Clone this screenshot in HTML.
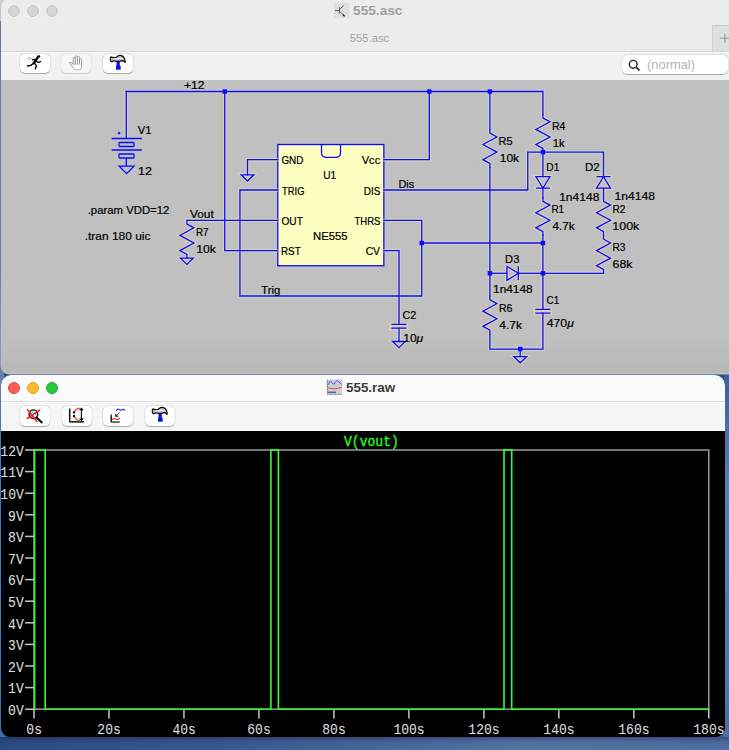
<!DOCTYPE html>
<html><head><meta charset="utf-8">
<style>
html,body{margin:0;padding:0;}
body{width:729px;height:750px;overflow:hidden;position:relative;background:#3f62a0;font-family:"Liberation Sans",sans-serif;}
.abs{position:absolute;}
#desk{left:0;top:0;width:729px;height:750px;background:linear-gradient(180deg,#1f3f78 0%,#2c4f8c 40%,#3a5e98 100%);}
#deskr{left:724px;top:370px;width:5px;height:380px;background:linear-gradient(180deg,#3a5f9c 0%,#5a7cb0 30%,#5476aa 70%,#4a6ca2 100%);}
#deskb{left:0;top:737px;width:729px;height:13px;background:linear-gradient(180deg,rgba(10,20,50,0.35) 0%,rgba(10,20,50,0.1) 35%,rgba(0,0,0,0) 100%),linear-gradient(90deg,#2c4c84 0%,#3a5b93 30%,#4a6b9f 55%,#5676a8 72%,#4f70a4 100%);}
#behind{left:0;top:0;width:12px;height:21px;background:#d0d0d0;}
#deskl{left:0;top:21px;width:4px;height:716px;background:linear-gradient(180deg,#1d3a70 0%,#22427c 35%,#4f6fa4 42%,#6482b2 50%,#4a78b8 55%,#3f7cc2 80%,#3a6cae 100%);}
#w1{left:1px;top:-4px;width:740px;height:377.5px;background:#c0c0c0;border-radius:12px 12px 8px 8px;overflow:hidden;box-shadow:0 0 0 0.5px #b8b8b8;}
#w1title{left:0;top:0;width:740px;height:55px;background:#ececec;border-bottom:1px solid #d8d8d8;}
#w1tool{left:0;top:56px;width:740px;height:28px;background:#f1f1f1;border-top:1px solid #fafafa;box-sizing:border-box;}
#w2{left:1px;top:375px;width:724px;height:362.3px;background:#000;border-radius:10px 10px 9px 9px;overflow:hidden;}
#w2title{left:0;top:0;width:100%;height:26px;background:#fafafa;border-bottom:1px solid #dedede;box-sizing:content-box;}
#w2tool{left:0;top:27px;width:100%;height:29px;background:#f5f5f5;border-top:1px solid #fcfcfc;border-bottom:0.5px solid #fdfdfd;box-sizing:border-box;}
.btn{position:absolute;width:30px;height:19.5px;background:#fff;border-radius:5px;box-shadow:0 0.5px 1px rgba(0,0,0,0.28),0 0 0 0.5px rgba(0,0,0,0.08);}
.tl{position:absolute;width:12px;height:12px;border-radius:50%;box-shadow:0 0 0 1px rgba(255,255,255,0.45);}
svg{position:absolute;left:0;top:0;}
</style></head>
<body>
<div id="desk" class="abs"></div>
<div id="deskr" class="abs"></div>
<div id="deskb" class="abs"></div>
<div id="behind" class="abs"></div>
<div id="deskl" class="abs"></div>
<div id="w1" class="abs">
  <div id="w1title" class="abs"></div>
  <div id="w1tool" class="abs"></div>
  <div class="abs" style="left:0;top:339px;width:740px;height:38.5px;background:linear-gradient(180deg,rgba(0,0,0,0) 0%,rgba(0,0,0,0.045) 95%,rgba(255,255,240,0.05) 100%);"></div>
</div>
<div id="w2" class="abs">
  <div id="w2title" class="abs"></div>
  <div id="w2tool" class="abs"></div>
</div>
<!-- traffic lights window1 -->
<div class="tl" style="left:8px;top:5px;background:#d5d5d5;border:0.5px solid #c4c4c4;box-sizing:border-box;"></div>
<div class="tl" style="left:27px;top:5px;background:#d5d5d5;border:0.5px solid #c4c4c4;box-sizing:border-box;"></div>
<div class="tl" style="left:46px;top:5px;background:#d5d5d5;border:0.5px solid #c4c4c4;box-sizing:border-box;"></div>
<!-- traffic lights window2 -->
<div class="tl" style="left:8px;top:382px;background:#fe5f57;border:0.5px solid #e2463f;box-sizing:border-box;"></div>
<div class="tl" style="left:27px;top:382px;background:#febc2e;border:0.5px solid #dfa023;box-sizing:border-box;"></div>
<div class="tl" style="left:46px;top:382px;background:#28c840;border:0.5px solid #1aab29;box-sizing:border-box;"></div>
<!-- toolbar buttons w1 -->
<div class="btn" style="left:20px;top:53.5px;"></div>
<div class="btn" style="left:61px;top:53.5px;background:#f6f6f6;box-shadow:0 0.5px 1px rgba(0,0,0,0.12),0 0 0 0.5px rgba(0,0,0,0.05);"></div>
<div class="btn" style="left:102.5px;top:53.5px;"></div>
<!-- search -->
<div class="abs" style="left:621.5px;top:54.5px;width:106px;height:19.5px;background:#fff;border-radius:5px;box-shadow:0 0.5px 1px rgba(0,0,0,0.25),0 0 0 0.5px rgba(0,0,0,0.08);"></div>
<!-- plus tab -->
<div class="abs" style="left:712px;top:24.5px;width:20px;height:26.5px;background:#e0e0e0;border-top:1.5px solid #c9c9c9;border-left:1px solid #d2d2d2;box-sizing:border-box;"></div>
<!-- toolbar buttons w2 -->
<div class="btn" style="left:20px;top:406px;"></div>
<div class="btn" style="left:61.5px;top:406px;"></div>
<div class="btn" style="left:103px;top:406px;"></div>
<div class="btn" style="left:144.5px;top:406px;"></div>

<svg id="main" width="729" height="750" viewBox="0 0 729 750">
<rect x="277.80" y="144.53" width="106.05" height="121.20" fill="#fdffc0" stroke="#0b0bff" stroke-width="1.3"/><path d="M321.5,144.53 V152.8 Q321.5,157.3 326,157.3 H336 Q340.5,157.3 340.5,152.8 V144.53" fill="none" stroke="#0b0bff" stroke-width="1.3"/>
<g fill="none" stroke="#ebe6b0" stroke-opacity="0.5" stroke-width="3.4" stroke-linejoin="miter" stroke-linecap="square">
<polyline points="126.30,91.50 126.30,91.50" />
<polyline points="126.30,91.50 542.92,91.50 542.92,114.22" />
<polyline points="126.30,91.50 126.30,138.50" />
<polyline points="224.78,91.50 224.78,250.58 277.80,250.58" />
<polyline points="383.85,159.68 429.30,159.68 429.30,91.50" />
<polyline points="489.90,91.50 489.90,129.38" />
<polyline points="489.90,129.38 489.90,133.16 496.91,136.95 482.89,144.53 496.91,152.10 482.89,159.68 489.90,163.46 489.90,167.25" />
<polyline points="489.90,167.25 489.90,273.30" />
<polyline points="277.80,159.68 247.50,159.68 247.50,174.82" />
<polyline points="277.80,189.98 239.93,189.98 239.93,296.02 421.73,296.02 421.73,220.28 383.85,220.28" />
<polyline points="277.80,220.28 186.90,220.28" />
<polyline points="186.90,220.28 186.90,224.06 193.91,227.85 179.89,235.43 193.91,243.00 179.89,250.58 186.90,254.36 186.90,258.15" />
<polyline points="383.85,250.58 399.00,250.58 399.00,324.43" />
<polyline points="399.00,328.22 399.00,341.48" />
<polyline points="421.73,243.00 542.92,243.00" />
<polyline points="383.85,189.98 527.77,189.98 527.77,152.10 603.52,152.10 603.52,176.72" />
<polyline points="542.92,114.22 542.92,118.01 549.93,121.80 535.92,129.38 549.93,136.95 535.92,144.53 542.92,148.31 542.92,152.10" />
<polyline points="542.92,152.10 542.92,176.72" />
<polyline points="542.92,188.08 542.92,197.55" />
<polyline points="542.92,197.55 542.92,201.34 549.93,205.12 535.92,212.70 549.93,220.28 535.92,227.85 542.92,231.64 542.92,235.43" />
<polyline points="542.92,235.43 542.92,309.28" />
<polyline points="603.52,188.08 603.52,197.55" />
<polyline points="603.52,197.55 603.52,201.34 610.53,205.12 596.52,212.70 610.53,220.28 596.52,227.85 603.52,231.64 603.52,235.43" />
<polyline points="603.52,235.43 603.52,239.21 610.53,243.00 596.52,250.58 610.53,258.15 596.52,265.73 603.52,269.51 603.52,273.30" />
<polyline points="603.52,273.30 542.92,273.30" />
<polyline points="489.90,273.30 506.94,273.30" />
<polyline points="518.31,273.30 542.92,273.30" />
<polyline points="489.90,273.30 489.90,296.02" />
<polyline points="489.90,296.02 489.90,299.81 496.91,303.60 482.89,311.18 496.91,318.75 482.89,326.33 489.90,330.11 489.90,333.90" />
<polyline points="489.90,333.90 489.90,349.05 542.92,349.05 542.92,313.07" />
<polyline points="520.20,349.05 520.20,356.62" />
<path d="M241.10,174.82 L253.90,174.82 L247.50,181.02 Z" />
<path d="M180.50,258.15 L193.30,258.15 L186.90,264.35 Z" />
<path d="M392.60,341.48 L405.40,341.48 L399.00,347.68 Z" />
<path d="M513.80,356.62 L526.60,356.62 L520.20,362.82 Z" />
<path d="M391.43,324.43 L406.58,324.43 M391.43,328.22 L406.58,328.22" />
<path d="M535.35,309.28 L550.50,309.28 M535.35,313.07 L550.50,313.07" />
<path d="M535.92,176.72 L549.93,176.72 L542.92,188.08 Z M535.92,188.08 L549.93,188.08" />
<path d="M596.52,188.08 L610.53,188.08 L603.52,176.72 Z M596.52,176.72 L610.53,176.72" />
<path d="M506.94,266.29 L506.94,280.31 L518.31,273.30 Z M518.31,266.29 L518.31,280.31" />
</g>
<g fill="none" stroke="#0b0bff" stroke-width="1.3" stroke-linejoin="miter" stroke-linecap="square">
<polyline points="126.30,91.50 126.30,91.50" />
<polyline points="126.30,91.50 542.92,91.50 542.92,114.22" />
<polyline points="126.30,91.50 126.30,138.50" />
<polyline points="224.78,91.50 224.78,250.58 277.80,250.58" />
<polyline points="383.85,159.68 429.30,159.68 429.30,91.50" />
<polyline points="489.90,91.50 489.90,129.38" />
<polyline points="489.90,129.38 489.90,133.16 496.91,136.95 482.89,144.53 496.91,152.10 482.89,159.68 489.90,163.46 489.90,167.25" />
<polyline points="489.90,167.25 489.90,273.30" />
<polyline points="277.80,159.68 247.50,159.68 247.50,174.82" />
<polyline points="277.80,189.98 239.93,189.98 239.93,296.02 421.73,296.02 421.73,220.28 383.85,220.28" />
<polyline points="277.80,220.28 186.90,220.28" />
<polyline points="186.90,220.28 186.90,224.06 193.91,227.85 179.89,235.43 193.91,243.00 179.89,250.58 186.90,254.36 186.90,258.15" />
<polyline points="383.85,250.58 399.00,250.58 399.00,324.43" />
<polyline points="399.00,328.22 399.00,341.48" />
<polyline points="421.73,243.00 542.92,243.00" />
<polyline points="383.85,189.98 527.77,189.98 527.77,152.10 603.52,152.10 603.52,176.72" />
<polyline points="542.92,114.22 542.92,118.01 549.93,121.80 535.92,129.38 549.93,136.95 535.92,144.53 542.92,148.31 542.92,152.10" />
<polyline points="542.92,152.10 542.92,176.72" />
<polyline points="542.92,188.08 542.92,197.55" />
<polyline points="542.92,197.55 542.92,201.34 549.93,205.12 535.92,212.70 549.93,220.28 535.92,227.85 542.92,231.64 542.92,235.43" />
<polyline points="542.92,235.43 542.92,309.28" />
<polyline points="603.52,188.08 603.52,197.55" />
<polyline points="603.52,197.55 603.52,201.34 610.53,205.12 596.52,212.70 610.53,220.28 596.52,227.85 603.52,231.64 603.52,235.43" />
<polyline points="603.52,235.43 603.52,239.21 610.53,243.00 596.52,250.58 610.53,258.15 596.52,265.73 603.52,269.51 603.52,273.30" />
<polyline points="603.52,273.30 542.92,273.30" />
<polyline points="489.90,273.30 506.94,273.30" />
<polyline points="518.31,273.30 542.92,273.30" />
<polyline points="489.90,273.30 489.90,296.02" />
<polyline points="489.90,296.02 489.90,299.81 496.91,303.60 482.89,311.18 496.91,318.75 482.89,326.33 489.90,330.11 489.90,333.90" />
<polyline points="489.90,333.90 489.90,349.05 542.92,349.05 542.92,313.07" />
<polyline points="520.20,349.05 520.20,356.62" />
<path d="M241.10,174.82 L253.90,174.82 L247.50,181.02 Z" />
<path d="M180.50,258.15 L193.30,258.15 L186.90,264.35 Z" />
<path d="M392.60,341.48 L405.40,341.48 L399.00,347.68 Z" />
<path d="M513.80,356.62 L526.60,356.62 L520.20,362.82 Z" />
</g>
<g fill="none" stroke="#0b0bff" stroke-width="1.3" stroke-linejoin="miter" stroke-linecap="butt">
<path d="M391.43,324.43 L406.58,324.43 M391.43,328.22 L406.58,328.22" />
<path d="M535.35,309.28 L550.50,309.28 M535.35,313.07 L550.50,313.07" />
<path d="M535.92,176.72 L549.93,176.72 L542.92,188.08 Z M535.92,188.08 L549.93,188.08" />
<path d="M596.52,188.08 L610.53,188.08 L603.52,176.72 Z M596.52,176.72 L610.53,176.72" />
<path d="M506.94,266.29 L506.94,280.31 L518.31,273.30 Z M518.31,266.29 L518.31,280.31" />
</g>
<g fill="none" stroke="#0b0bff" stroke-width="1.3">
<path d="M111.7,138.5 H141.8 M111.7,150 H141.8" />
<rect x="119" y="142.5" width="15" height="4" rx="0.8" />
<rect x="119" y="154" width="15" height="4" rx="0.8" />
<path d="M126.3,158 V166.2" />
<path d="M119.2,166.2 H134 L126.6,173.6 Z" />
</g>
<path d="M117.4,133.1 H120.6 M119,131.5 V134.7" stroke="#ebe6b0" stroke-opacity="0.5" stroke-width="3" fill="none"/>
<path d="M117.6,133.1 H120.4 M119,131.7 V134.5" stroke="#0b0bff" stroke-width="1.3" fill="none"/>
<g fill="#0b0bff">
<rect x="222.58" y="89.30" width="4.4" height="4.4" />
<rect x="427.10" y="89.30" width="4.4" height="4.4" />
<rect x="487.70" y="89.30" width="4.4" height="4.4" />
<rect x="540.72" y="149.90" width="4.4" height="4.4" />
<rect x="419.53" y="240.80" width="4.4" height="4.4" />
<rect x="540.72" y="240.80" width="4.4" height="4.4" />
<rect x="487.70" y="271.10" width="4.4" height="4.4" />
<rect x="540.72" y="271.10" width="4.4" height="4.4" />
<rect x="518.00" y="346.85" width="4.4" height="4.4" />
</g>
<g stroke="#000" stroke-width="0.2">
<text x="183.95" y="88.70" font-family="Liberation Sans" font-size="11" font-weight="400" fill="#000" textLength="20.71" lengthAdjust="spacingAndGlyphs">+12</text>
<text x="137.70" y="134.00" font-family="Liberation Sans" font-size="11" font-weight="400" fill="#000" textLength="13.77" lengthAdjust="spacingAndGlyphs">V1</text>
<text x="137.94" y="175.20" font-family="Liberation Sans" font-size="11" font-weight="400" fill="#000" textLength="14.02" lengthAdjust="spacingAndGlyphs">12</text>
<text x="87.73" y="213.50" font-family="Liberation Sans" font-size="11" font-weight="400" fill="#000" textLength="81.61" lengthAdjust="spacingAndGlyphs">.param VDD=12</text>
<text x="84.68" y="240.00" font-family="Liberation Sans" font-size="11" font-weight="400" fill="#000" textLength="65.83" lengthAdjust="spacingAndGlyphs">.tran 180 uic</text>
<text x="190.00" y="217.80" font-family="Liberation Sans" font-size="11" font-weight="400" fill="#000" textLength="23.73" lengthAdjust="spacingAndGlyphs">Vout</text>
<text x="196.03" y="235.70" font-family="Liberation Sans" font-size="11" font-weight="400" fill="#000" textLength="12.55" lengthAdjust="spacingAndGlyphs">R7</text>
<text x="196.27" y="253.10" font-family="Liberation Sans" font-size="11" font-weight="400" fill="#000" textLength="19.72" lengthAdjust="spacingAndGlyphs">10k</text>
<text x="261.30" y="293.60" font-family="Liberation Sans" font-size="11" font-weight="400" fill="#000" textLength="18.95" lengthAdjust="spacingAndGlyphs">Trig</text>
<text x="281.45" y="163.80" font-family="Liberation Sans" font-size="11" font-weight="400" fill="#000" textLength="21.95" lengthAdjust="spacingAndGlyphs">GND</text>
<text x="282.00" y="194.70" font-family="Liberation Sans" font-size="11" font-weight="400" fill="#000" textLength="22.45" lengthAdjust="spacingAndGlyphs">TRIG</text>
<text x="281.47" y="225.00" font-family="Liberation Sans" font-size="11" font-weight="400" fill="#000" textLength="21.41" lengthAdjust="spacingAndGlyphs">OUT</text>
<text x="281.03" y="255.00" font-family="Liberation Sans" font-size="11" font-weight="400" fill="#000" textLength="19.67" lengthAdjust="spacingAndGlyphs">RST</text>
<text x="361.70" y="163.50" font-family="Liberation Sans" font-size="11" font-weight="400" fill="#000" textLength="18.54" lengthAdjust="spacingAndGlyphs">Vcc</text>
<text x="363.72" y="194.70" font-family="Liberation Sans" font-size="11" font-weight="400" fill="#000" textLength="16.59" lengthAdjust="spacingAndGlyphs">DIS</text>
<text x="354.40" y="224.70" font-family="Liberation Sans" font-size="11" font-weight="400" fill="#000" textLength="26.09" lengthAdjust="spacingAndGlyphs">THRS</text>
<text x="365.63" y="255.10" font-family="Liberation Sans" font-size="11" font-weight="400" fill="#000" textLength="14.40" lengthAdjust="spacingAndGlyphs">CV</text>
<text x="323.21" y="178.70" font-family="Liberation Sans" font-size="11" font-weight="400" fill="#000" textLength="12.98" lengthAdjust="spacingAndGlyphs">U1</text>
<text x="313.03" y="240.00" font-family="Liberation Sans" font-size="11" font-weight="400" fill="#000" textLength="34.57" lengthAdjust="spacingAndGlyphs">NE555</text>
<text x="398.46" y="187.60" font-family="Liberation Sans" font-size="11" font-weight="400" fill="#000" textLength="15.73" lengthAdjust="spacingAndGlyphs">Dis</text>
<text x="402.41" y="319.40" font-family="Liberation Sans" font-size="11" font-weight="400" fill="#000" textLength="13.80" lengthAdjust="spacingAndGlyphs">C2</text>
<text x="403.18" y="341.60" font-family="Liberation Sans" font-size="11" font-weight="400" fill="#000" textLength="20.04" lengthAdjust="spacingAndGlyphs">10<tspan font-style="italic">μ</tspan></text>
<text x="498.45" y="145.00" font-family="Liberation Sans" font-size="11" font-weight="400" fill="#000" textLength="14.06" lengthAdjust="spacingAndGlyphs">R5</text>
<text x="499.78" y="161.80" font-family="Liberation Sans" font-size="11" font-weight="400" fill="#000" textLength="19.30" lengthAdjust="spacingAndGlyphs">10k</text>
<text x="551.88" y="129.80" font-family="Liberation Sans" font-size="11" font-weight="400" fill="#000" textLength="13.48" lengthAdjust="spacingAndGlyphs">R4</text>
<text x="552.73" y="146.50" font-family="Liberation Sans" font-size="11" font-weight="400" fill="#000" textLength="11.94" lengthAdjust="spacingAndGlyphs">1k</text>
<text x="546.31" y="171.10" font-family="Liberation Sans" font-size="11" font-weight="400" fill="#000" textLength="12.98" lengthAdjust="spacingAndGlyphs">D1</text>
<text x="584.92" y="171.20" font-family="Liberation Sans" font-size="11" font-weight="400" fill="#000" textLength="14.60" lengthAdjust="spacingAndGlyphs">D2</text>
<text x="559.18" y="201.20" font-family="Liberation Sans" font-size="11" font-weight="400" fill="#000" textLength="40.22" lengthAdjust="spacingAndGlyphs">1n4148</text>
<text x="614.58" y="200.10" font-family="Liberation Sans" font-size="11" font-weight="400" fill="#000" textLength="40.33" lengthAdjust="spacingAndGlyphs">1n4148</text>
<text x="551.43" y="213.30" font-family="Liberation Sans" font-size="11" font-weight="400" fill="#000" textLength="12.66" lengthAdjust="spacingAndGlyphs">R1</text>
<text x="552.53" y="230.40" font-family="Liberation Sans" font-size="11" font-weight="400" fill="#000" textLength="22.21" lengthAdjust="spacingAndGlyphs">4.7k</text>
<text x="612.51" y="213.00" font-family="Liberation Sans" font-size="11" font-weight="400" fill="#000" textLength="12.98" lengthAdjust="spacingAndGlyphs">R2</text>
<text x="612.35" y="230.40" font-family="Liberation Sans" font-size="11" font-weight="400" fill="#000" textLength="26.98" lengthAdjust="spacingAndGlyphs">100k</text>
<text x="612.51" y="251.00" font-family="Liberation Sans" font-size="11" font-weight="400" fill="#000" textLength="12.98" lengthAdjust="spacingAndGlyphs">R3</text>
<text x="612.64" y="267.70" font-family="Liberation Sans" font-size="11" font-weight="400" fill="#000" textLength="19.85" lengthAdjust="spacingAndGlyphs">68k</text>
<text x="505.14" y="262.80" font-family="Liberation Sans" font-size="11" font-weight="400" fill="#000" textLength="14.17" lengthAdjust="spacingAndGlyphs">D3</text>
<text x="493.09" y="292.50" font-family="Liberation Sans" font-size="11" font-weight="400" fill="#000" textLength="39.60" lengthAdjust="spacingAndGlyphs">1n4148</text>
<text x="498.88" y="311.70" font-family="Liberation Sans" font-size="11" font-weight="400" fill="#000" textLength="13.41" lengthAdjust="spacingAndGlyphs">R6</text>
<text x="499.33" y="328.70" font-family="Liberation Sans" font-size="11" font-weight="400" fill="#000" textLength="22.62" lengthAdjust="spacingAndGlyphs">4.7k</text>
<text x="546.55" y="304.30" font-family="Liberation Sans" font-size="11" font-weight="400" fill="#000" textLength="12.63" lengthAdjust="spacingAndGlyphs">C1</text>
<text x="546.72" y="327.00" font-family="Liberation Sans" font-size="11" font-weight="400" fill="#000" textLength="27.13" lengthAdjust="spacingAndGlyphs">470<tspan font-style="italic">μ</tspan></text>
</g>
<rect x="34" y="450" width="674.8" height="259.2" stroke="#9c9c9c" stroke-width="1.5" fill="none"/>
<g stroke="#c4c4c4" stroke-width="1.5" fill="none">
<line x1="25" y1="450.00" x2="34" y2="450.00" />
<line x1="25" y1="471.60" x2="34" y2="471.60" />
<line x1="25" y1="493.20" x2="34" y2="493.20" />
<line x1="25" y1="514.80" x2="34" y2="514.80" />
<line x1="25" y1="536.40" x2="34" y2="536.40" />
<line x1="25" y1="558.00" x2="34" y2="558.00" />
<line x1="25" y1="579.60" x2="34" y2="579.60" />
<line x1="25" y1="601.20" x2="34" y2="601.20" />
<line x1="25" y1="622.80" x2="34" y2="622.80" />
<line x1="25" y1="644.40" x2="34" y2="644.40" />
<line x1="25" y1="666.00" x2="34" y2="666.00" />
<line x1="25" y1="687.60" x2="34" y2="687.60" />
<line x1="25" y1="709.20" x2="34" y2="709.20" />
<line x1="34.00" y1="709.2" x2="34.00" y2="718.5" />
<line x1="108.98" y1="709.2" x2="108.98" y2="718.5" />
<line x1="183.96" y1="709.2" x2="183.96" y2="718.5" />
<line x1="258.93" y1="709.2" x2="258.93" y2="718.5" />
<line x1="333.91" y1="709.2" x2="333.91" y2="718.5" />
<line x1="408.89" y1="709.2" x2="408.89" y2="718.5" />
<line x1="483.87" y1="709.2" x2="483.87" y2="718.5" />
<line x1="558.84" y1="709.2" x2="558.84" y2="718.5" />
<line x1="633.82" y1="709.2" x2="633.82" y2="718.5" />
<line x1="708.80" y1="709.2" x2="708.80" y2="718.5" />
</g>
<g stroke="#dcdcdc" stroke-width="0.1">
<text x="0.35" y="455.90" font-family="Liberation Mono" font-size="13" font-weight="400" fill="#dcdcdc" textLength="23.41" lengthAdjust="spacingAndGlyphs" transform="translate(0,455.90) scale(1,1.1) translate(0,-455.90)">12V</text>
<text x="0.35" y="477.50" font-family="Liberation Mono" font-size="13" font-weight="400" fill="#dcdcdc" textLength="23.41" lengthAdjust="spacingAndGlyphs" transform="translate(0,477.50) scale(1,1.1) translate(0,-477.50)">11V</text>
<text x="0.35" y="499.10" font-family="Liberation Mono" font-size="13" font-weight="400" fill="#dcdcdc" textLength="23.41" lengthAdjust="spacingAndGlyphs" transform="translate(0,499.10) scale(1,1.1) translate(0,-499.10)">10V</text>
<text x="8.10" y="520.70" font-family="Liberation Mono" font-size="13" font-weight="400" fill="#dcdcdc" textLength="15.61" lengthAdjust="spacingAndGlyphs" transform="translate(0,520.70) scale(1,1.1) translate(0,-520.70)">9V</text>
<text x="8.10" y="542.30" font-family="Liberation Mono" font-size="13" font-weight="400" fill="#dcdcdc" textLength="15.61" lengthAdjust="spacingAndGlyphs" transform="translate(0,542.30) scale(1,1.1) translate(0,-542.30)">8V</text>
<text x="8.10" y="563.90" font-family="Liberation Mono" font-size="13" font-weight="400" fill="#dcdcdc" textLength="15.61" lengthAdjust="spacingAndGlyphs" transform="translate(0,563.90) scale(1,1.1) translate(0,-563.90)">7V</text>
<text x="8.10" y="585.50" font-family="Liberation Mono" font-size="13" font-weight="400" fill="#dcdcdc" textLength="15.61" lengthAdjust="spacingAndGlyphs" transform="translate(0,585.50) scale(1,1.1) translate(0,-585.50)">6V</text>
<text x="8.10" y="607.10" font-family="Liberation Mono" font-size="13" font-weight="400" fill="#dcdcdc" textLength="15.61" lengthAdjust="spacingAndGlyphs" transform="translate(0,607.10) scale(1,1.1) translate(0,-607.10)">5V</text>
<text x="8.10" y="628.70" font-family="Liberation Mono" font-size="13" font-weight="400" fill="#dcdcdc" textLength="15.61" lengthAdjust="spacingAndGlyphs" transform="translate(0,628.70) scale(1,1.1) translate(0,-628.70)">4V</text>
<text x="8.10" y="650.30" font-family="Liberation Mono" font-size="13" font-weight="400" fill="#dcdcdc" textLength="15.61" lengthAdjust="spacingAndGlyphs" transform="translate(0,650.30) scale(1,1.1) translate(0,-650.30)">3V</text>
<text x="8.10" y="671.90" font-family="Liberation Mono" font-size="13" font-weight="400" fill="#dcdcdc" textLength="15.61" lengthAdjust="spacingAndGlyphs" transform="translate(0,671.90) scale(1,1.1) translate(0,-671.90)">2V</text>
<text x="8.10" y="693.50" font-family="Liberation Mono" font-size="13" font-weight="400" fill="#dcdcdc" textLength="15.61" lengthAdjust="spacingAndGlyphs" transform="translate(0,693.50) scale(1,1.1) translate(0,-693.50)">1V</text>
<text x="8.10" y="715.10" font-family="Liberation Mono" font-size="13" font-weight="400" fill="#dcdcdc" textLength="15.61" lengthAdjust="spacingAndGlyphs" transform="translate(0,715.10) scale(1,1.1) translate(0,-715.10)">0V</text>
<text x="26.38" y="733.70" font-family="Liberation Mono" font-size="13" font-weight="400" fill="#dcdcdc" textLength="15.61" lengthAdjust="spacingAndGlyphs" transform="translate(0,733.70) scale(1,1.1) translate(0,-733.70)">0s</text>
<text x="97.35" y="733.70" font-family="Liberation Mono" font-size="13" font-weight="400" fill="#dcdcdc" textLength="23.41" lengthAdjust="spacingAndGlyphs" transform="translate(0,733.70) scale(1,1.1) translate(0,-733.70)">20s</text>
<text x="172.46" y="733.70" font-family="Liberation Mono" font-size="13" font-weight="400" fill="#dcdcdc" textLength="23.41" lengthAdjust="spacingAndGlyphs" transform="translate(0,733.70) scale(1,1.1) translate(0,-733.70)">40s</text>
<text x="247.31" y="733.70" font-family="Liberation Mono" font-size="13" font-weight="400" fill="#dcdcdc" textLength="23.41" lengthAdjust="spacingAndGlyphs" transform="translate(0,733.70) scale(1,1.1) translate(0,-733.70)">60s</text>
<text x="322.29" y="733.70" font-family="Liberation Mono" font-size="13" font-weight="400" fill="#dcdcdc" textLength="23.41" lengthAdjust="spacingAndGlyphs" transform="translate(0,733.70) scale(1,1.1) translate(0,-733.70)">80s</text>
<text x="393.39" y="733.70" font-family="Liberation Mono" font-size="13" font-weight="400" fill="#dcdcdc" textLength="31.21" lengthAdjust="spacingAndGlyphs" transform="translate(0,733.70) scale(1,1.1) translate(0,-733.70)">100s</text>
<text x="468.37" y="733.70" font-family="Liberation Mono" font-size="13" font-weight="400" fill="#dcdcdc" textLength="31.21" lengthAdjust="spacingAndGlyphs" transform="translate(0,733.70) scale(1,1.1) translate(0,-733.70)">120s</text>
<text x="543.34" y="733.70" font-family="Liberation Mono" font-size="13" font-weight="400" fill="#dcdcdc" textLength="31.21" lengthAdjust="spacingAndGlyphs" transform="translate(0,733.70) scale(1,1.1) translate(0,-733.70)">140s</text>
<text x="618.32" y="733.70" font-family="Liberation Mono" font-size="13" font-weight="400" fill="#dcdcdc" textLength="31.21" lengthAdjust="spacingAndGlyphs" transform="translate(0,733.70) scale(1,1.1) translate(0,-733.70)">160s</text>
<text x="693.30" y="733.70" font-family="Liberation Mono" font-size="13" font-weight="400" fill="#dcdcdc" textLength="31.21" lengthAdjust="spacingAndGlyphs" transform="translate(0,733.70) scale(1,1.1) translate(0,-733.70)">180s</text>
</g>
<path d="M34.6,709.2 V450 H45.2 V709.2 H270.9 V450 H278.4 V709.2 H504 V450 H511.7 V709.2 H708.8" fill="none" stroke="#2dff2d" stroke-width="1.6" />
<g stroke="#22ff22" stroke-width="0.3"><text x="344.00" y="446.30" font-family="Liberation Mono" font-size="13" font-weight="400" fill="#22ff22" textLength="54.92" lengthAdjust="spacingAndGlyphs" transform="translate(0,446.30) scale(1,1.1) translate(0,-446.30)">V(vout)</text></g>
<text x="353.08" y="14.80" font-family="Liberation Sans" font-size="13" font-weight="700" fill="#9f9f9f" textLength="49.34" lengthAdjust="spacingAndGlyphs">555.asc</text>
<text x="349.71" y="41.60" font-family="Liberation Sans" font-size="11.5" font-weight="400" fill="#a3a3a3" textLength="39.57" lengthAdjust="spacingAndGlyphs">555.asc</text>
<text x="647.06" y="68.80" font-family="Liberation Sans" font-size="13" font-weight="400" fill="#b4b4b4" textLength="47.98" lengthAdjust="spacingAndGlyphs">(normal)</text>
<text x="345.98" y="391.70" font-family="Liberation Sans" font-size="13" font-weight="700" fill="#3c3c3c" textLength="49.27" lengthAdjust="spacingAndGlyphs">555.raw</text>
<path d="M720,38.2 H729 M724.9,33.5 V43" stroke="#929292" stroke-width="1" fill="none"/>
<circle cx="633.2" cy="64.3" r="3.9" fill="none" stroke="#222" stroke-width="1.4"/><path d="M636,67.1 L639.5,70.3" stroke="#222" stroke-width="1.6"/>
<g transform="translate(0,0)" stroke-linecap="round" stroke-linejoin="round" fill="none"><path d="M29,57.2 L31.4,58.6 M27.6,58.6 L29.6,60" stroke="#9a9a9a" stroke-width="1"/><path d="M37.6,57.8 L33.6,63.2" stroke="#000" stroke-width="2.3"/><path d="M35.4,59.6 L33.6,59.3 L32.4,60" stroke="#000" stroke-width="1.2"/><path d="M36.6,61.6 L38.4,62.4 L40.6,61.6" stroke="#000" stroke-width="1.2"/><path d="M34.2,63 L30.6,65.4 L27.6,65.8" stroke="#000" stroke-width="1.5"/><path d="M34.6,63.4 L36.4,65.6 L35.4,68.8" stroke="#000" stroke-width="1.4"/><ellipse cx="38.6" cy="56.4" rx="1.7" ry="1.2" fill="#000"/></g>
<g stroke="#8c8c8c" stroke-width="0.8" fill="#fcfcfc" stroke-linejoin="round"><path d="M73.2,64.2 L71.2,62.6 Q69.8,62 69.6,63.2 L73.6,68.2 L74.8,69.6 H80.4 L81.6,67 V64 Z"/><rect x="73.2" y="57.6" width="2.10" height="7.40" rx="1" ry="1"/><rect x="75.3" y="55.8" width="2.10" height="9.20" rx="1" ry="1"/><rect x="77.4" y="56.4" width="2.10" height="8.60" rx="1" ry="1"/><rect x="79.5" y="58.6" width="2.10" height="6.40" rx="1" ry="1"/><path d="M73.6,64.6 Q74,67.4 74.8,69.2 H80.2 L81.2,66.8 V64.4 Z" stroke="none"/></g>
<g transform="translate(0,0)"><path d="M110.3,58 Q110.3,56.9 111.4,56.9 L112.6,57.3 Q113.4,57.8 114.6,57.8 Q116,57.8 117,56.6 Q118.6,55.2 120.6,55.4 Q123.2,55.8 124.6,58.6 Q125.4,60.4 125,62.6 Q124.2,61 122.6,60.6 Q121,60.6 119.6,61.4 H116.4 Q114.6,61 113.4,60.8 L112.6,61.4 Q111.4,61.9 110.8,61.4 Q110.3,61 110.3,60 Z" fill="#bdbdbd" stroke="#000" stroke-width="1.1" stroke-linejoin="round"/><path d="M113.2,59.2 Q117,58.6 122.4,58.4" stroke="#f2f2f2" stroke-width="1.1" fill="none"/><rect x="116.5" y="61.6" width="3.3" height="4.6" fill="#0a14d8"/><rect x="116" y="65.8" width="4.7" height="3.9" fill="#0a14d8"/></g>
<g transform="translate(42,352)"><path d="M110.3,58 Q110.3,56.9 111.4,56.9 L112.6,57.3 Q113.4,57.8 114.6,57.8 Q116,57.8 117,56.6 Q118.6,55.2 120.6,55.4 Q123.2,55.8 124.6,58.6 Q125.4,60.4 125,62.6 Q124.2,61 122.6,60.6 Q121,60.6 119.6,61.4 H116.4 Q114.6,61 113.4,60.8 L112.6,61.4 Q111.4,61.9 110.8,61.4 Q110.3,61 110.3,60 Z" fill="#bdbdbd" stroke="#000" stroke-width="1.1" stroke-linejoin="round"/><path d="M113.2,59.2 Q117,58.6 122.4,58.4" stroke="#f2f2f2" stroke-width="1.1" fill="none"/><rect x="116.5" y="61.6" width="3.3" height="4.6" fill="#0a14d8"/><rect x="116" y="65.8" width="4.7" height="3.9" fill="#0a14d8"/></g>
<circle cx="33.4" cy="414.2" r="4.3" fill="#e8ffff" stroke="#111" stroke-width="1.4"/><path d="M31.5,412.6 L33.6,411.8 M35.2,415 L36.2,413.4" stroke="#3fe6f0" stroke-width="1.6"/><path d="M36.6,417.6 L41.8,422.4" stroke="#000" stroke-width="2" stroke-linecap="round"/><path d="M27.6,409.6 L36.8,421.4 M39.6,410.2 L27.4,418.4" stroke="#ff0a0a" stroke-width="1.5" stroke-linecap="round"/>
<path d="M69.8,408.6 V421.8 H84.2" stroke="#000" stroke-width="1.3" fill="none"/><path d="M68.8,410.4 H70 M68.8,413 H70 M68.8,415.6 H70 M68.8,418.2 H70 M72.6,422.6 V421.6 M75.4,422.6 V421.6 M78.2,422.6 V421.6 M81,422.6 V421.6" stroke="#000" stroke-width="1"/><path d="M79.8,408.2 Q76,408.8 74.2,411.6 M74.2,416.8 Q76,419.8 79.8,420.8" stroke="#ff2a2a" stroke-width="1.2" fill="none"/><circle cx="74" cy="412.4" r="1.2" fill="#000"/><circle cx="74" cy="416" r="1.2" fill="#000"/><path d="M81.4,408.4 V420.4 M79.6,410.4 L81.4,408.4 L83.2,410.4 M79.6,418.4 L81.4,420.4 L83.2,418.4" stroke="#000" stroke-width="1.1" fill="none"/>
<path d="M116.2,410.6 Q117.6,408.4 119.2,409.4 Q120.6,410.8 122,409.8 Q123.4,408.4 125,410.6" stroke="#1530ff" stroke-width="1.2" fill="none"/><path d="M119.6,412.6 L116.2,415.8" stroke="#333" stroke-width="0.9"/><path d="M115.4,413.4 V416.8 H118.6 Z" fill="#000"/><path d="M111.2,414.6 V422 H119.8" stroke="#000" stroke-width="1.2" fill="none"/><path d="M110.6,417.4 H111.4 M110.6,419.6 H111.4 M114.4,422.6 V422 M117.4,422.6 V422" stroke="#000" stroke-width="1"/><path d="M112.2,419.6 Q114,417.6 116,419.2 Q118,420.2 119.8,418.2" stroke="#ff2020" stroke-width="1.1" fill="none"/>
<rect x="334" y="3" width="15.5" height="15" fill="#dedede"/><path d="M335,10.5 H339.4 M339.4,7.4 V13.6 M339.4,9.8 L343.6,5.4 M339.4,11.2 L344.2,15.8" stroke="#555" stroke-width="0.9" fill="none"/><path d="M342.8,14.6 L344.6,16.2" stroke="#222" stroke-width="1.3"/>
<rect x="327" y="379.4" width="15" height="15.2" fill="#cfcfd4"/><path d="M327.6,385.2 L330.6,381 L333.6,384.4 L337,380.4 L341.6,384.4" stroke="#4358e8" stroke-width="1" fill="none"/><path d="M327.6,388 Q334,389.8 341.6,387.6" stroke="#e84848" stroke-width="1" fill="none"/><path d="M328,392.2 H336" stroke="#2a2a9a" stroke-width="1"/><path d="M327.4,379.6 V394.4 H341.8" stroke="#333" stroke-width="0.8" stroke-dasharray="0.8 0.8" fill="none"/>
</svg>
</body></html>
